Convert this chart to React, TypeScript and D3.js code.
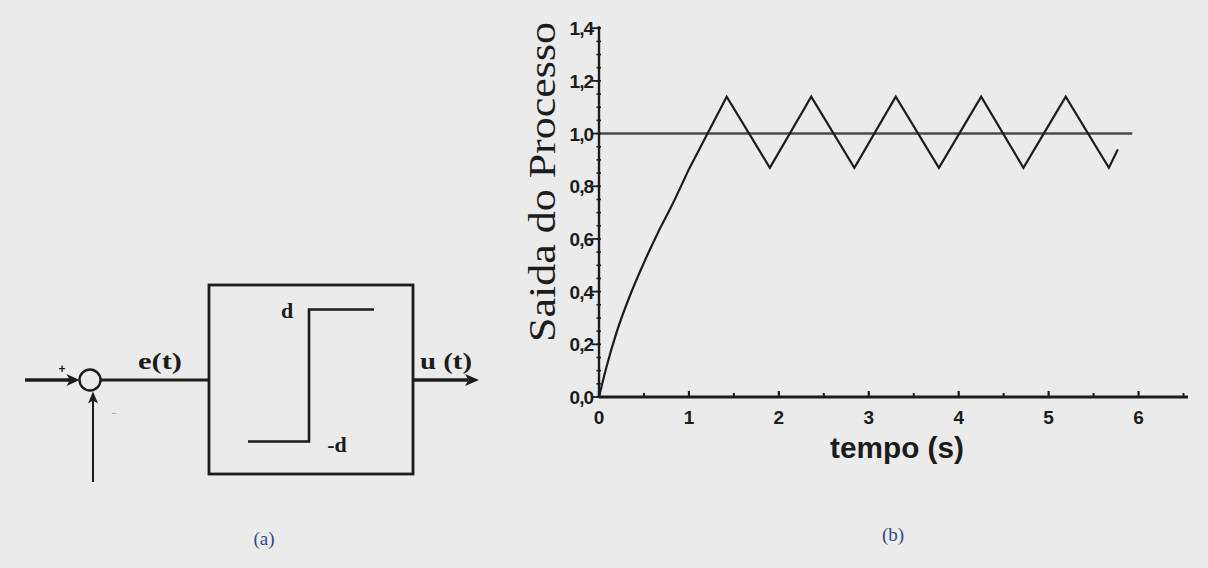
import React from "react";
import * as d3 from "d3";

// Relay (on-off) control: block diagram (a) and the process response (b)
const W = 1208;
const H = 568;

const yTicks = [0, 0.2, 0.4, 0.6, 0.8, 1.0, 1.2, 1.4];
const yTickLabels = ["0,0", "0,2", "0,4", "0,6", "0,8", "1,0", "1,2", "1,4"];
const yMinorTicks = d3.range(0, 1.4001, 0.05);
const xTicks = [0, 1, 2, 3, 4, 5, 6];
const xTickLabels = ["0", "1", "2", "3", "4", "5", "6"];
const xMinorTicks = [0.5, 1.5, 2.5, 3.5, 4.5, 5.5, 6.5];

// initial rise of the process output
const riseT = [0, 0.08, 0.2, 0.35, 0.5, 0.65, 0.8, 1.0];
const riseY = [0, 0.11, 0.25, 0.39, 0.51, 0.62, 0.72, 0.865];

// sustained oscillation produced by the relay
const cycleT = [1.0, 1.42, 1.9, 2.36, 2.84, 3.3, 3.78, 4.25, 4.72, 5.19, 5.67, 5.77];
const cycleY = [0.865, 1.14, 0.87, 1.14, 0.87, 1.14, 0.87, 1.14, 0.87, 1.14, 0.87, 0.94];

// setpoint
const setT = [0, 5.93];
const setY = [1.0, 1.0];

const BG = "#ebebeb";
const INK = "#1c1c1c";
const CAPTION = "#2d4a86";

function arrowHead(tipX: number, tipY: number, dir: "right" | "up", len: number, half: number) {
  if (dir === "right") {
    return `M${tipX},${tipY} L${tipX - len},${tipY - half} L${tipX - len * 0.75},${tipY} L${tipX - len},${tipY + half} Z`;
  }
  return `M${tipX},${tipY} L${tipX - half},${tipY + len} L${tipX},${tipY + len * 0.75} L${tipX + half},${tipY + len} Z`;
}

function BlockDiagram() {
  const cy = 380;
  const cx = 90;
  const r = 10.5;
  const box = { x0: 209, y0: 285, x1: 413, y1: 474 };
  return (
    <g>
      {/* reference input */}
      <line x1={25} x2={cx - r - 4} y1={cy} y2={cy} stroke={INK} strokeWidth={3.5} />
      <path d={arrowHead(cx - r, cy, "right", 13, 6)} fill={INK} />
      <text x={62} y={373} fontFamily="Liberation Sans" fontWeight="bold" fontSize={12} fill={INK} textAnchor="middle">+</text>
      {/* summing junction */}
      <circle cx={cx} cy={cy} r={r} fill="none" stroke={INK} strokeWidth={2.4} />
      <text x={114} y={416} fontFamily="Liberation Sans" fontSize={9} fill="#888" textAnchor="middle">−</text>
      {/* feedback */}
      <line x1={cx + 3} x2={cx + 3} y1={482} y2={cy + r + 6} stroke={INK} strokeWidth={2} />
      <path d={arrowHead(cx + 3, cy + r + 1, "up", 12, 5)} fill={INK} />
      {/* error signal */}
      <line x1={cx + r} x2={box.x0} y1={cy} y2={cy} stroke={INK} strokeWidth={3} />
      <text x={160} y={369} fontFamily="Liberation Serif" fontWeight="bold" fontSize={24} fill={INK} textAnchor="middle" textLength={44} lengthAdjust="spacingAndGlyphs">e(t)</text>
      {/* relay block */}
      <rect x={box.x0} y={box.y0} width={box.x1 - box.x0} height={box.y1 - box.y0} fill="none" stroke={INK} strokeWidth={2.8} />
      <path d="M248,441.5 L309,441.5 L309,309.5 L374,309.5" fill="none" stroke={INK} strokeWidth={2.6} />
      <text x={287} y={318} fontFamily="Liberation Serif" fontWeight="bold" fontSize={22} fill={INK} textAnchor="middle">d</text>
      <text x={337} y={452} fontFamily="Liberation Serif" fontWeight="bold" fontSize={22} fill={INK} textAnchor="middle">-d</text>
      {/* control signal */}
      <line x1={box.x1} x2={468} y1={cy} y2={cy} stroke={INK} strokeWidth={3.5} />
      <path d={arrowHead(479, cy, "right", 14, 6)} fill={INK} />
      <text x={446} y={369} fontFamily="Liberation Serif" fontWeight="bold" fontSize={24} fill={INK} textAnchor="middle" textLength={52} lengthAdjust="spacingAndGlyphs">u (t)</text>
      <text x={264} y={545} fontFamily="Liberation Serif" fontSize={19} fill={CAPTION} textAnchor="middle">(a)</text>
    </g>
  );
}

function ResponsePlot() {
  const x = d3.scaleLinear().domain([0, 6.55]).range([599, 1188]);
  const y = d3.scaleLinear().domain([0, 1.4]).range([397, 28.2]);

  const riseLine = d3
    .line<number>()
    .x((_, i) => x(riseT[i]))
    .y((_, i) => y(riseY[i]))
    .curve(d3.curveMonotoneX);
  const cycleLine = d3
    .line<number>()
    .x((_, i) => x(cycleT[i]))
    .y((_, i) => y(cycleY[i]));
  const setLine = d3
    .line<number>()
    .x((_, i) => x(setT[i]))
    .y((_, i) => y(setY[i]));

  const tickFont = { fontFamily: "Liberation Sans", fontWeight: "bold" as const, fontSize: 19, fill: INK };

  return (
    <g>
      {/* setpoint */}
      <path d={setLine(setT) || ""} fill="none" stroke="#4a4a4a" strokeWidth={2.4} />
      {/* process output */}
      <path d={riseLine(riseT) || ""} fill="none" stroke={INK} strokeWidth={2.2} />
      <path d={cycleLine(cycleT) || ""} fill="none" stroke={INK} strokeWidth={2.2} strokeLinejoin="miter" />

      {/* y axis */}
      <line x1={x(0)} x2={x(0)} y1={y(0) + 1} y2={y(1.4) - 2} stroke={INK} strokeWidth={2.4} />
      {yMinorTicks.map((v) => (
        <line key={`ym${v.toFixed(2)}`} x1={x(0) - 2.5} x2={x(0) + 2} y1={y(v)} y2={y(v)} stroke={INK} strokeWidth={1.6} />
      ))}
      {yTicks.map((v, i) => (
        <g key={`y${i}`}>
          <line x1={x(0) - 7} x2={x(0)} y1={y(v)} y2={y(v)} stroke={INK} strokeWidth={1.8} />
          <text x={593} y={y(v) + 7} textAnchor="end" {...tickFont} letterSpacing={-1}>
            {yTickLabels[i]}
          </text>
        </g>
      ))}

      {/* x axis */}
      <line x1={x(0)} x2={x(6.55)} y1={y(0)} y2={y(0)} stroke={INK} strokeWidth={3} />
      {xMinorTicks.map((v) => (
        <line key={`xm${v}`} x1={x(v)} x2={x(v)} y1={y(0)} y2={y(0) - 4} stroke={INK} strokeWidth={2} />
      ))}
      {xTicks.map((v, i) => (
        <g key={`x${i}`}>
          <line x1={x(v)} x2={x(v)} y1={y(0)} y2={y(0) - 6} stroke={INK} strokeWidth={2.2} />
          <text x={x(v)} y={424} textAnchor="middle" {...tickFont}>
            {xTickLabels[i]}
          </text>
        </g>
      ))}

      <text x={897} y={458} textAnchor="middle" fontFamily="Liberation Sans" fontWeight="bold" fontSize={29} fill={INK} textLength={134} lengthAdjust="spacingAndGlyphs">
        tempo (s)
      </text>
      <text
        transform="translate(555,182) rotate(-90)"
        textAnchor="middle"
        fontFamily="Liberation Serif"
        fontSize={38}
        fill={INK}
        textLength={320}
        lengthAdjust="spacingAndGlyphs"
      >
        Saida do Processo
      </text>
      <text x={893} y={541} fontFamily="Liberation Serif" fontSize={19} fill={CAPTION} textAnchor="middle">(b)</text>
    </g>
  );
}

export default function App() {
  return (
    <svg width={W} height={H} viewBox={`0 0 ${W} ${H}`} style={{ position: "absolute", left: 0, top: 0, display: "block" }}>
      <rect x={0} y={0} width={W} height={H} fill={BG} />
      <BlockDiagram />
      <ResponsePlot />
    </svg>
  );
}
